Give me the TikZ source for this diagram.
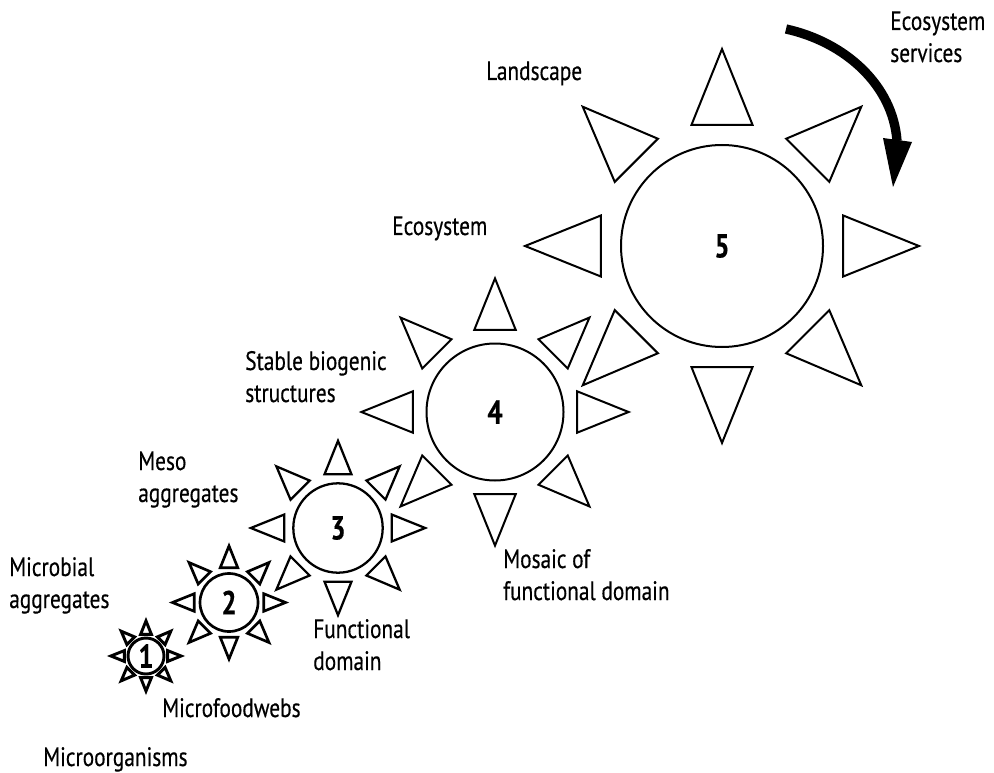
\documentclass[tikz,border=0pt]{standalone}
\usepackage{fontspec}
\setmainfont{PT Sans}[FakeStretch=0.8, FakeBold=0.4]
\begin{document}
\begin{tikzpicture}[x=0.75pt,y=-0.75pt,
  lbl/.style={anchor=base west, inner sep=0pt, align=left, font=\fontsize{20}{24}\selectfont},
  sunc/.style={circle, draw, inner sep=0pt, font=\fontsize{25}{25}\selectfont\bfseries},
  ray/.style={draw, line join=miter}]
\useasboundingbox (0,0) rectangle (994,773);
\newcommand\drawsun[6]{%
  \node[sunc, minimum size={#4*1.5pt}, line width=#5] (#1) at (#2,#3) {#6};
  \foreach \a in {0,45,...,315}{
    \draw[ray, line width=#5, shift={(#1.center)}, rotate=\a]
      ({1.2*#4},{-0.302*#4}) -- ({1.95*#4},0) -- ({1.2*#4},{0.302*#4}) -- cycle;
  }%
}
\drawsun{s5}{722}{246}{101}{1.5pt}{5}
\drawsun{s4}{495}{412}{68.5}{1.5pt}{4}
\drawsun{s3}{338}{528}{44.7}{1.7pt}{3}
\drawsun{s2}{229}{602.5}{29}{2pt}{2}
\drawsun{s1}{146}{656}{18}{2.2pt}{1}
% arrow
\coordinate (arrS) at (786,29);
\coordinate (arrE) at (897,141);
\coordinate (ahL) at (883,138);
\coordinate (ahR) at (912,142);
\coordinate (ahT) at (893,187);
\draw[line width=7pt] (arrS) .. controls (845,42) and (893,85) .. (arrE);
\fill (ahL) -- (ahR) -- (ahT) -- cycle;
% labels (multi-line: anchor is the baseline of the last line)
\node[lbl] (les) at (890,62) {Ecosystem\\services};
\node[lbl] (lland) at (486,80) {Landscape};
\node[lbl] (leco) at (392,235) {Ecosystem};
\node[lbl] (lstab) at (245,402) {Stable biogenic\\structures};
\node[lbl] (lmeso) at (138,502) {Meso\\aggregates};
\node[lbl] (lmagg) at (9,608) {Microbial\\aggregates};
\node[lbl] (lfunc) at (313,670) {Functional\\domain};
\node[lbl] (lmos) at (503,600) {Mosaic of\\functional domain};
\node[lbl] (lmfw) at (162,717) {Microfoodwebs};
\node[lbl] (lmorg) at (43,766) {Microorganisms};
\end{tikzpicture}
\end{document}
